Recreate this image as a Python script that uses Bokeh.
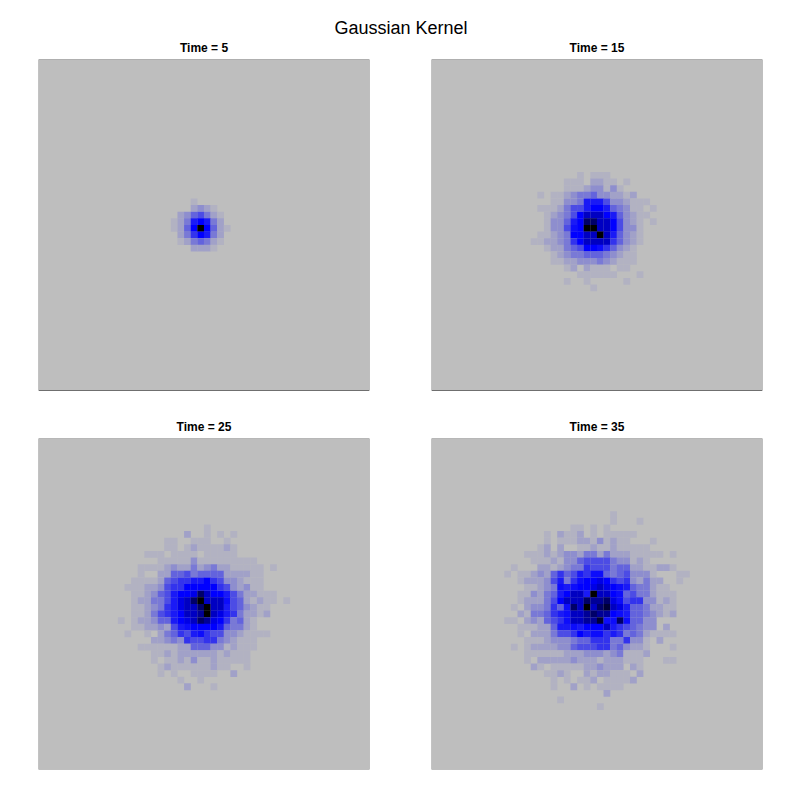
from bokeh.plotting import figure
from bokeh.layouts import column, row
from bokeh.models import ColumnDataSource, LinearColorMapper, Div, Span
from bokeh.embed import file_html
from bokeh.resources import INLINE

main_title = "Gaussian Kernel"
panel_titles = ["Time = 5", "Time = 15", "Time = 25", "Time = 35"]
GRID = 50

# (first row from the top, first column, rows of levels)
time_5 = (21, 20, [
    [0,0,0,1],
    [0,0,0,2,3,2,1],
    [0,2,3,5,6,4,2,1],
    [1,2,4,8,9,8,4,2],
    [1,2,5,9,12,9,5,2,1],
    [0,2,4,7,9,8,4,2],
    [0,1,2,4,5,4,2,1],
    [0,0,0,2,2,2,1],
])
time_15 = (17, 15, [
    [0,0,0,0,0,0,0,1,0,1,1,1],
    [0,0,0,0,0,1,1,1,0,2,2,1,1,0,1],
    [0,0,0,0,0,1,1,1,2,3,3,1,3,1],
    [0,1,0,1,1,2,3,4,4,5,3,3,2,2,1,2],
    [0,0,0,1,1,3,3,4,8,8,8,6,3,3,2,1,1,1],
    [0,1,1,1,2,4,6,6,8,9,9,8,5,4,3,1,1,0,1],
    [0,0,1,2,3,4,6,9,10,10,10,9,8,5,3,2,1,1],
    [0,0,1,3,3,5,8,9,11,11,10,10,9,6,3,2,1,0,1],
    [0,0,1,3,3,6,8.5,9,12,12,10,10,9,6,3,3,1],
    [0,1,1,2,3,4,9,9,10,10,12,10,8,5,3,2,1],
    [1,1,2,2,3,4,7,9,10,10,10,10,7,5,3,2,1],
    [0,0,1,2,2,4,5,6,9,9,8.5,7,5,3,2,1],
    [0,0,0,1,2,3,4,4,5,5,5,4,3,2,1,1],
    [0,0,0,1,1,2,2,3,3,3,4,3,2,1,1,1],
    [0,0,0,0,0,1,2,0,2,1,1,1,0,1,1],
    [0,0,0,0,0,0,0,1,1,1,1,1,1,0,0,0,1],
    [0,0,0,0,0,1,0,0,1,0,0,0,0,0,1],
    [0,0,0,0,0,0,0,0,0,1],
])
time_25 = (13, 11, [
    [0,0,0,0,0,0,0,0,0,0,0,0,0,0,1],
    [0,0,0,0,0,0,0,0,0,0,0,2,0,0,1,0,1,0,1],
    [0,0,0,0,0,0,0,0,1,1,0,0,1,1,1,0,0,1],
    [0,0,0,0,0,0,0,0,1,1,0,1,2,1,1,1,1,2,1],
    [0,0,0,0,0,1,1,1,0,1,1,1,1,0,1,1,1,1,1],
    [0,0,0,0,0,0,0,1,1,1,1,1,3,1,1,1,1,1,1,1,1,1],
    [0,0,0,0,1,1,1,1,2,3,2,2,4,2,3,4,2,2,1,1,1,1,1,0,1],
    [0,0,0,0,1,0,0,2,2,5,5,6,4,5,5,5,5,2,2,2,2,1,1],
    [0,0,0,1,1,1,1,2,5,6,7,7,8,8,9,7,6,3,3,2,1,1,1],
    [0,0,1,1,1,2,2,3,6,7,7,9,9,9,9,9,7,6,3,2,3,1,1],
    [0,0,0,1,1,2,3,5,6,8,9,9,9.5,11,10,9,9,8,6,4,2,2,1,1,1],
    [0,0,0,1,2,2,4,4,6,8,9.5,10,11,12,10,10,10,8.5,6,5,2,1,2,1,1,0,1],
    [0,0,0,1,1,2,3,4,7,8,9.5,10,10,11,12,10,10,8,6,5,3,2,1,1],
    [0,0,0,1,1,2,4,6,7,8,9,10,10,10.5,12,10,9.5,8,7,4,2,2,1,2],
    [0,1,0,1,2,2,3,5,5,8,9,9.5,10,11,10.5,9.5,9,7,4,5,2,1],
    [0,0,0,1,1,2,2,3,2,6,8,8.5,9,9,9,9,8,5,4,4,2,1],
    [0,0,1,0,0,1,0,2,4,5,7,6,8,8.5,7,6,6,3,3,2,1,1,1,1],
    [0,0,0,0,0,0,2,2,3,4,3,7,6,6,7,7,4,3,2,1,1,1],
    [0,0,0,0,1,1,1,1,1,1,2,2,5,5,5,3,3,1,2,1,1,1],
    [0,0,0,0,0,0,1,1,2,1,2,2,2,2,2,2,1,2,1,1,1],
    [0,0,0,0,0,0,1,0,1,1,2,1,3,1,1,2,1,1,1,1,1],
    [0,0,0,0,0,0,0,1,2,1,1,1,1,1,1,2,1,1,0,0,1],
    [0,0,0,0,0,0,0,1,0,1,0,0,1,1,1,1,0,0,2],
    [0,0,0,0,0,0,0,0,0,0,1,0,0,1],
    [0,0,0,0,0,0,0,0,0,0,0,2,0,0,0,1],
])
time_35 = (11, 11, [
    [0,0,0,0,0,0,0,0,0,0,0,0,0,0,0,0,1],
    [0,0,0,0,0,0,0,0,0,0,0,0,0,0,0,0,1,0,0,0,1],
    [0,0,0,0,0,0,0,0,0,0,1,1,0,1,0,1],
    [0,0,0,0,0,0,1,0,2,1,1,2,0,1,0,1,1,1,1,1],
    [0,0,0,0,0,0,1,0,1,1,1,2,2,1,3,1,2,1,1,0,0,0,1],
    [0,0,0,0,0,1,2,0,2,0,0,1,1,2,1,1,2,1,1,1,1,1],
    [0,0,0,1,1,1,2,1,2,3,3,2,4,4,2,4,2,2,2,1,1,1,1,1,0,1],
    [0,0,0,0,1,1,1,2,1,3,3,5,6,6,6,6,4,3,3,1,2,1],
    [0,1,0,0,0,2,2,1,2,3,4,4,7,6,6,6,4,5,5,2,2,1,1,2,2,1],
    [1,0,1,1,2,3,2,5,7,5,6,8,7,8.5,8.5,5,4,5,6,3,3,3,1,0,0,0,1,1],
    [0,0,1,2,2,2,3,6,8,4,7,8.5,9,9,9.5,9,7,6,7,3,2,4,2,2,0,0,1],
    [0,0,0,1,1,2,3,4,8.5,8,8.5,9,9,9.5,10,9.5,9,8.5,8,5,4,4,2,1,1],
    [0,0,1,1,3,2,4,5,8,9,10,10,8,12,10,10,9,8.5,5,6,4,4,2,1,1,1],
    [0,0,1,2,2,2,4,6,9,10,10,10,11,10.5,10.5,11,9.5,8.5,6,7,7,3,3,1,2,1],
    [0,1,0,2,3,3,4,7,5,8.5,11,10,12,10,11,11.5,10,9.5,8,5,5,4,2,2,1,1],
    [0,0,2,1,4,4,5,7,8,8.5,10,10,10.5,11,10.5,10.5,9,8.5,8,5,5,4,3,2,1,2],
    [1,1,0,2,3,2,5,6,7,8.5,10,10,10.5,10.5,11.5,8.5,8.5,11,8.5,5,5,3,3],
    [0,0,1,1,1,2,2,5,8,8,8.5,8,9,9,9,10,8,7,6,5,4,3,3,0,2],
    [0,0,1,0,2,2,2,4,6,6,7,9,8,8.5,8.5,7,8,7,4,5,4,2,1,1,1,1],
    [0,0,0,1,1,1,2,3,3,3,4,5,5,7,7,7,4,4,7,3,3,1,0,2],
    [0,1,0,1,2,2,2,2,3,3,5,6,6,6,7,7,4,5,3,2,2,1,0,0,0,1],
    [0,0,0,1,1,1,1,1,1,2,2,2,3,3,3,2,3,4,1,1,1,2],
    [0,0,0,1,0,2,2,2,2,2,3,2,2,2,1,2,2,2,1,1,1,0,0,0,1,1],
    [0,0,0,0,2,1,0,1,1,1,1,1,2,2,3,2,2,2,0,2,1],
    [0,0,0,0,0,0,1,1,2,1,0,0,2,1,2,2,1,1,1,0,2],
    [0,0,0,0,0,0,0,1,0,1,0,1,1,2,0,1,1,1,1,2],
    [0,0,0,0,0,0,0,1,0,0,2,0,1,0,1,1,1,1],
    [0,0,0,0,0,0,0,0,0,0,0,0,0,0,0,2],
    [0,0,0,0,0,0,0,0,1],
    [0,0,0,0,0,0,0,0,0,0,0,0,0,0,1],
])
panels = [time_5, time_15, time_25, time_35]

GREY = (190, 190, 190)
def colour(v):
    if v <= 9:
        t = (v / 9) ** 1.25
        c = [round(g * (1 - t)) for g in GREY[:2]] + [round(GREY[2] + (255 - GREY[2]) * t)]
    else:
        t = ((v - 9) / 3) ** 1.3
        c = [0, 0, round(255 * (1 - t))]
    return "#%02x%02x%02x" % tuple(c)

palette = [colour(i / 2) for i in range(25)]
mapper = LinearColorMapper(palette=palette, low=-0.25, high=12.25)

def panel(data, title, left, right, top, bottom, top_edge, bottom_edge):
    r0, c0, rows = data
    xs, ys, vs = [], [], []
    for i, vals in enumerate(rows):
        for j, v in enumerate(vals):
            if v > 0:
                xs.append(c0 + j + 0.5)
                ys.append(GRID - (r0 + i) - 0.5)
                vs.append(v)
    p = figure(output_backend="svg", toolbar_location=None, x_range=(0, GRID), y_range=(0, GRID),
               frame_width=331, frame_height=331, min_border_left=left, min_border_right=right,
               min_border_top=top, min_border_bottom=bottom, title=title,
               x_axis_type=None, y_axis_type=None)
    p.grid.visible = False
    p.background_fill_color = "#bebebe"
    p.border_fill_color = "white"
    p.outline_line_color = None
    p.title.align = "center"
    p.title.text_font = "Liberation Sans"
    p.title.text_font_size = "12px"
    p.title.text_font_style = "bold"
    p.title.text_color = "black"
    p.title.standoff = 9
    src = ColumnDataSource(dict(x=xs, y=ys, v=vs))
    p.rect("x", "y", 1.02, 1.02, source=src,
           fill_color={"field": "v", "transform": mapper}, line_color=None)
    p.add_layout(Span(location=GRID, dimension="width", line_color=top_edge, line_width=1))
    p.add_layout(Span(location=0, dimension="width", line_color=bottom_edge, line_width=1))
    p.add_layout(Span(location=0, dimension="height", line_color="#a8a8a8", line_width=1))
    p.add_layout(Span(location=GRID, dimension="height", line_color="#a0a0a0", line_width=1))
    return p

p1 = panel(panels[0], panel_titles[0], 38, 31, 25, 20, "#808080", "#000000")
p2 = panel(panels[1], panel_titles[1], 31, 8, 25, 20, "#808080", "#000000")
p3 = panel(panels[2], panel_titles[2], 38, 31, 28, 10, "#909090", "#a0a0a0")
p4 = panel(panels[3], panel_titles[3], 31, 8, 28, 10, "#909090", "#a0a0a0")

head = Div(text=main_title, width=792, height=24,
           styles={"text-align": "center", "font-family": "Liberation Sans", "font-size": "18px",
                   "color": "black", "width": "792px", "line-height": "46px"})
layout = column(head, row(p1, p2, spacing=0), row(p3, p4, spacing=0), spacing=0)
open("out.html", "w").write(file_html(layout, INLINE))
